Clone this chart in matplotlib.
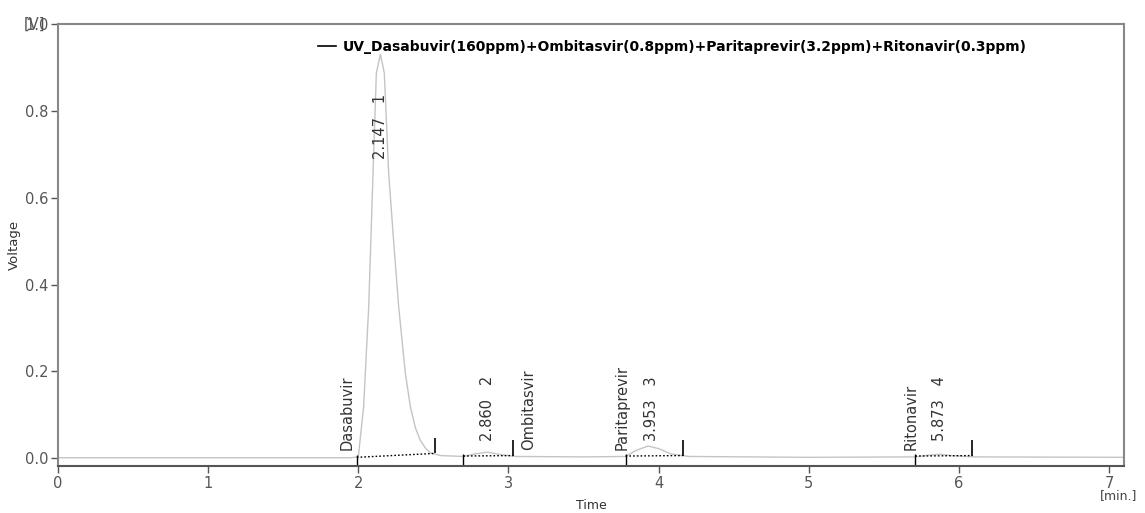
import matplotlib
matplotlib.use("Agg")
import matplotlib.pyplot as plt
from matplotlib.lines import Line2D

# chromatogram trace (time in min, signal in V)
time = [0.00, 1.00, 1.95, 2.00, 2.035, 2.069, 2.098, 2.12, 2.147, 2.173, 2.202,
        2.235, 2.269, 2.313, 2.347, 2.38, 2.413, 2.45, 2.48, 2.55, 2.70, 2.78,
        2.86, 2.95, 3.05, 3.50, 3.78, 3.85, 3.93, 4.00, 4.08, 4.20, 5.00, 5.71,
        5.80, 5.873, 5.95, 6.10, 7.10]
voltage = [0.001, 0.001, 0.001, 0.003, 0.118, 0.348, 0.657, 0.887, 0.930, 0.887,
           0.657, 0.500, 0.348, 0.196, 0.118, 0.070, 0.041, 0.022, 0.012, 0.006,
           0.004, 0.010, 0.014, 0.008, 0.004, 0.003, 0.004, 0.018, 0.028, 0.022,
           0.010, 0.004, 0.002, 0.003, 0.007, 0.009, 0.006, 0.003, 0.002]

# integration results
compounds = ["Dasabuvir", "Ombitasvir", "Paritaprevir", "Ritonavir"]
ret_times = [2.147, 2.860, 3.953, 5.873]
peak_nums = [1, 2, 3, 4]
peak_start = [1.99, 2.70, 3.78, 5.71]
peak_end = [2.51, 3.03, 4.16, 6.09]
base_start = [0.002, 0.005, 0.005, 0.005]
base_end = [0.011, 0.006, 0.006, 0.006]
rt_label_y = [0.69, 0.04, 0.04, 0.04]
name_x = [1.975, 3.085, 3.805, 5.735]
name_ha = ["right", "left", "right", "right"]

legend_label = "UV_Dasabuvir(160ppm)+Ombitasvir(0.8ppm)+Paritaprevir(3.2ppm)+Ritonavir(0.3ppm)"

plt.rcParams["font.family"] = ["DejaVu Sans"]

fig = plt.figure(figsize=(11.45, 5.13), dpi=100)
ax = fig.add_axes([0.0507, 0.0916, 0.931, 0.8616])

ax.plot(time, voltage, color="#c4c4c4", lw=1.0)

for i in range(len(compounds)):
    ax.plot([peak_start[i], peak_end[i]], [base_start[i], base_end[i]],
            color="black", lw=1.0, linestyle=(0, (1.2, 1.5)))
    ax.vlines(peak_start[i], -0.018, base_start[i] + 0.005, color="black", lw=1.0)
    ax.vlines(peak_end[i], base_end[i], base_end[i] + 0.035, color="black", lw=1.2)
    ax.text(ret_times[i], rt_label_y[i], f"{ret_times[i]:.3f}   {peak_nums[i]}",
            rotation=90, ha="center", va="bottom", fontsize=10.5, color="#333333")
    ax.text(name_x[i], 0.018, compounds[i], rotation=90, ha=name_ha[i],
            va="bottom", fontsize=10.5, color="#333333")

ax.set_xlim(0, 7.1)
ax.set_ylim(-0.018, 1.0)
ax.set_xticks(range(8))
ax.set_yticks([0.0, 0.2, 0.4, 0.6, 0.8, 1.0])
ax.set_yticklabels(["0.0", "0.2", "0.4", "0.6", "0.8", "1.0"])
ax.tick_params(axis="both", direction="out", length=5, width=1.0,
               color="#555555", labelcolor="#555555", labelsize=10.5, pad=2)
for side in ["left", "bottom", "top", "right"]:
    ax.spines[side].set_color("#888888")
    ax.spines[side].set_linewidth(1.5)
ax.spines["bottom"].set_color("#555555")

# the instrument software prints the unit on top of the last tick label
ax.text(-0.012, 1.0, "[V]", transform=ax.get_yaxis_transform(), ha="right",
        va="center", fontsize=10.5, color="#555555")
ax.set_ylabel("Voltage", fontsize=9.5, color="#333333", labelpad=3)
ax.set_xlabel("Time", fontsize=9, color="#333333", labelpad=6)
fig.text(0.961, 0.035, "[min.]", fontsize=9, color="#444444", ha="left", va="center")

handle = Line2D([], [], color="black", lw=1.2)
ax.legend([handle], [legend_label], loc="center", bbox_to_anchor=(0.576, 0.948),
          frameon=False, handlelength=1.3, handletextpad=0.5,
          prop={"weight": "bold", "size": 10})

fig.savefig("out.png", dpi=100)
